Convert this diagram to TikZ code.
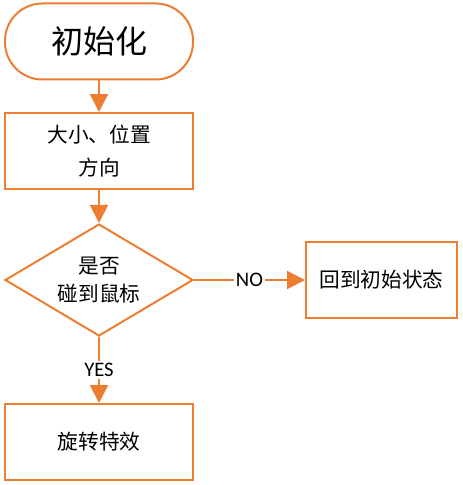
\documentclass[tikz,border=0pt]{standalone}
\usepackage{fontspec}
\newfontfamily\cjk{Noto Sans CJK SC}
\newfontfamily\lat{Carlito}
\usetikzlibrary{arrows.meta,shapes.geometric,positioning}
\definecolor{orng}{RGB}{237,125,49}

\begin{document}
\begin{tikzpicture}
 [x=0.75pt,y=-0.75pt,->,>={Triangle[length=13.5pt,width=13.5pt]},
 line width=1.5pt,
 box/.style={rectangle,draw=orng,text=black,line width=1.5pt,align=center,
 minimum width=141pt,minimum height=57pt,inner sep=0pt,
 font=\cjk\fontsize{15.5}{24.5}\selectfont},
 term/.style={box,rounded corners=28pt,font=\cjk\fontsize{24}{28}\selectfont},
 judge/.style={diamond,draw=orng,text=black,line width=1.5pt,align=center,aspect=1.68,
 minimum width=141pt,minimum height=84pt,inner sep=0pt,
 font=\cjk\fontsize{15.5}{21}\selectfont},
 lbl/.style={fill=white,text=black,inner sep=1.5pt,font=\lat\fontsize{15.5}{18}\selectfont}]
\useasboundingbox (0,0) rectangle (462,485);
\node (init) at (99,41.5) [term] {初始化};
\node (size) at (99,151) [box] {大小、位置\\方向};
\node (hit) at (99,280) [judge] {是否\\碰到鼠标};
\node (back) at (381.5,280) [box,minimum width=113.25pt] {回到初始状态};
\node (spin) at (99,442) [box] {旋转特效};

\draw[orng] (init) -- (size);
\draw[orng] (size) -- (hit);
\draw[orng] (hit) -- node[lbl] {NO} (back);
\draw[orng] (hit) -- node[lbl] {YES} (spin);
\end{tikzpicture}
\end{document}
